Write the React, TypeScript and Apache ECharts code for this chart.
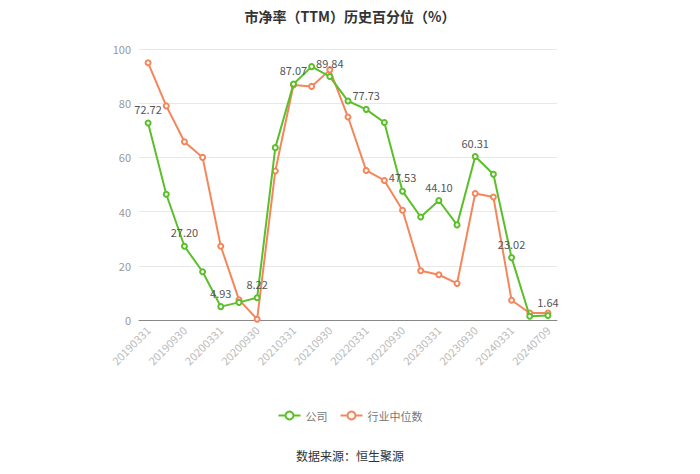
import React, { useEffect, useRef } from "react";
import * as echarts from "echarts";

const categories = [
  "20190331", "20190630", "20190930", "20191231",
  "20200331", "20200630", "20200930", "20201231",
  "20210331", "20210630", "20210930", "20211231",
  "20220331", "20220630", "20220930", "20221231",
  "20230331", "20230630", "20230930", "20231231",
  "20240331", "20240630", "20240709",
];

const companyValues = [
  72.72, 46.4, 27.2, 17.8, 4.93, 6.5, 8.22, 63.6, 87.07, 93.5, 89.84, 80.8,
  77.73, 72.9, 47.53, 38.0, 44.1, 35.1, 60.31, 53.8, 23.02, 1.4, 1.64,
];

const industryValues = [
  94.9, 79.0, 65.8, 60.0, 27.2, 7.5, 0.3, 55.0, 86.7, 86.2, 92.3, 74.9,
  55.2, 51.5, 40.5, 18.2, 16.7, 13.5, 46.7, 45.4, 7.3, 2.6, 2.6,
];

const seriesNames = ["公司", "行业中位数"];
const titleText = "市净率（TTM）历史百分位（%）";
const sourceText = "数据来源：恒生聚源";

export default function App() {
  const ref = useRef<HTMLDivElement>(null);

  useEffect(() => {
    if (!ref.current) return;
    const chart = echarts.init(ref.current, undefined, { renderer: "svg" });
    const font = "'Microsoft YaHei', 'Noto Sans CJK SC', sans-serif";
    chart.setOption({
      animation: false,
      backgroundColor: "#ffffff",
      textStyle: { fontFamily: font },
      title: {
        text: titleText,
        left: "center",
        top: 4,
        textStyle: { fontSize: 14, fontWeight: "bold", color: "#333", fontFamily: font },
      },
      legend: {
        bottom: 48,
        left: "center",
        itemWidth: 22,
        itemHeight: 10,
        itemGap: 12,
        textStyle: { color: "#777", fontSize: 11, fontFamily: font },
        data: seriesNames,
      },
      graphic: [
        {
          type: "text",
          left: "center",
          top: 449,
          style: { text: sourceText, fill: "#333", fontSize: 12, fontFamily: font },
        },
      ],
      grid: { left: 139, right: 143, top: 49, bottom: 154 },
      xAxis: {
        type: "category",
        data: categories,
        boundaryGap: true,
        axisLine: { lineStyle: { color: "#888" } },
        axisTick: { alignWithLabel: true, interval: 1, lineStyle: { color: "#888" } },
        axisLabel: {
          interval: 1,
          rotate: 45,
          color: "#bbb",
          fontSize: 11,
          fontFamily: font,
          margin: 8,
        },
      },
      yAxis: {
        type: "value",
        min: 0,
        max: 100,
        interval: 20,
        axisLine: { show: false },
        axisTick: { show: false },
        axisLabel: { color: "#999", fontSize: 11, fontFamily: font },
        splitLine: { lineStyle: { color: "#e8e8e8" } },
      },
      series: [
        {
          name: seriesNames[0],
          type: "line",
          data: companyValues,
          color: "#5bbf2a",
          symbol: "emptyCircle",
          symbolSize: 5,
          lineStyle: { width: 2 },
          label: {
            show: true,
            position: "top",
            color: "#555",
            fontSize: 11,
            fontFamily: font,
            formatter: (p: any) => (p.dataIndex % 2 === 0 ? p.value.toFixed(2) : ""),
          },
          z: 3,
        },
        {
          name: seriesNames[1],
          type: "line",
          data: industryValues,
          color: "#f4865c",
          symbol: "emptyCircle",
          symbolSize: 5,
          lineStyle: { width: 2 },
          z: 2,
        },
      ],
    });
    return () => chart.dispose();
  }, []);

  return <div ref={ref} style={{ width: 700, height: 474, margin: -8 }} />;
}
